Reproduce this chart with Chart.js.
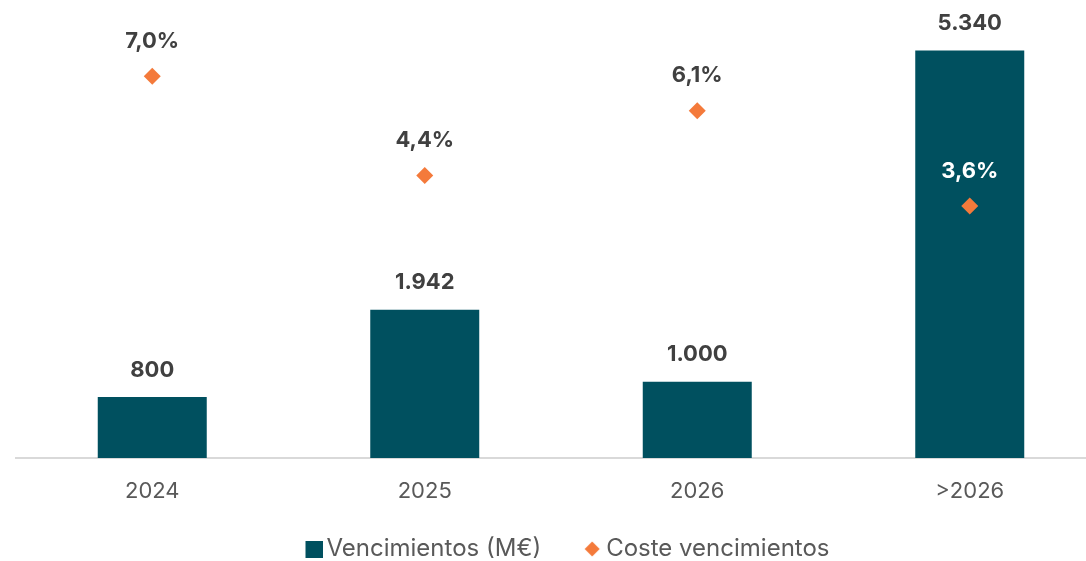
<!DOCTYPE html>
<html>
<head>
<meta charset="utf-8">
<script src="https://cdn.jsdelivr.net/npm/chart.js@4.4.1/dist/chart.umd.min.js"></script>
<style>
  html, body { margin: 0; padding: 0; background: #ffffff; overflow: hidden; width: 1086px; height: 561px; }
  #wrap { position: absolute; left: 0; top: 0; width: 1106px; height: 571px; }
</style>
</head>
<body>
<div id="wrap"><canvas id="c"></canvas></div>
<script>
const categories = ['2024', '2025', '2026', '>2026'];
const vencimientos = [800, 1942, 1000, 5340];
const coste = [7.0, 4.4, 6.1, 3.6];
const vencLabels = ['800', '1.942', '1.000', '5.340'];
const costeLabels = ['7,0%', '4,4%', '6,1%', '3,6%'];
const seriesNames = ['Vencimientos (M€)', 'Coste vencimientos'];

const TEAL = '#00505F';
const ORANGE = '#F47A3B';
const FONT = 'Inter, "Noto Sans", sans-serif';
const LEGEND_BOX = 22;

// legend marker images: transparent on the left, marker at the right end (next to the text)
function markerCanvas(kind) {
  const c = document.createElement('canvas');
  const s = kind === 'square' ? 17 : 16;
  c.width = LEGEND_BOX + 16; c.height = s;
  const g = c.getContext('2d');
  const x0 = c.width - s - (kind === 'square' ? 0 : 2);
  if (kind === 'square') {
    g.fillStyle = TEAL; g.fillRect(x0, 0, s, s);
  } else {
    g.fillStyle = ORANGE;
    g.beginPath();
    g.moveTo(x0 + s/2, 0.5); g.lineTo(x0 + s - 0.5, s/2); g.lineTo(x0 + s/2, s - 0.5); g.lineTo(x0 + 0.5, s/2);
    g.closePath(); g.fill();
  }
  return c;
}
const legendMarkers = [markerCanvas('square'), markerCanvas('diamond')];

const labelPlugin = {
  id: 'valueLabels',
  afterDatasetsDraw(chart) {
    const ctx = chart.ctx;
    ctx.save();
    ctx.font = 'bold 22px ' + FONT;
    ctx.textAlign = 'center';
    ctx.textBaseline = 'middle';
    const barMeta = chart.getDatasetMeta(0);
    barMeta.data.forEach((el, i) => {
      ctx.fillStyle = '#404040';
      ctx.fillText(vencLabels[i], el.x, el.y - 27);
    });
    const lineMeta = chart.getDatasetMeta(1);
    lineMeta.data.forEach((el, i) => {
      const inside = el.y - 36 > barMeta.data[i].y;
      ctx.fillStyle = inside ? '#ffffff' : '#404040';
      ctx.fillText(costeLabels[i], el.x, el.y - 35);
    });
    ctx.restore();
  }
};

new Chart(document.getElementById('c'), {
  data: {
    labels: categories,
    datasets: [
      {
        type: 'bar',
        label: seriesNames[0],
        data: vencimientos,
        backgroundColor: TEAL,
        yAxisID: 'y',
        categoryPercentage: 1.0,
        barPercentage: 0.4,
        order: 2
      },
      {
        type: 'line',
        label: seriesNames[1],
        data: coste,
        yAxisID: 'y2',
        showLine: false,
        pointStyle: 'rectRot',
        pointRadius: 8.5,
        pointHoverRadius: 8.5,
        pointBackgroundColor: ORANGE,
        pointBorderColor: ORANGE,
        pointBorderWidth: 0,
        order: 1
      }
    ]
  },
  options: {
    responsive: true,
    maintainAspectRatio: false,
    animation: false,
    layout: { autoPadding: false, padding: { left: 16, right: 0, top: 0, bottom: 0 } },
    scales: {
      x: {
        grid: { display: false },
        border: { display: true, color: '#D9D9D9', width: 2 },
        ticks: { color: '#595959', font: { family: FONT, size: 22 }, padding: 12 },
        afterFit(scale) { scale.height = 48; }
      },
      y: { display: false, min: 0, max: 6000 },
      y2: { display: false, min: -3, max: 9 }
    },
    plugins: {
      tooltip: { enabled: false },
      legend: {
        position: 'bottom',
        labels: {
          usePointStyle: true,
          pointStyleWidth: LEGEND_BOX,
          color: '#595959',
          font: { family: FONT, size: 24 },
          padding: 31,
          boxHeight: 24,
          sort: (a, b) => a.datasetIndex - b.datasetIndex,
          generateLabels(chart) {
            const items = Chart.defaults.plugins.legend.labels.generateLabels(chart);
            items.forEach(it => { it.pointStyle = legendMarkers[it.datasetIndex]; });
            return items;
          }
        }
      }
    }
  },
  plugins: [labelPlugin]
});
</script>
</body>
</html>
